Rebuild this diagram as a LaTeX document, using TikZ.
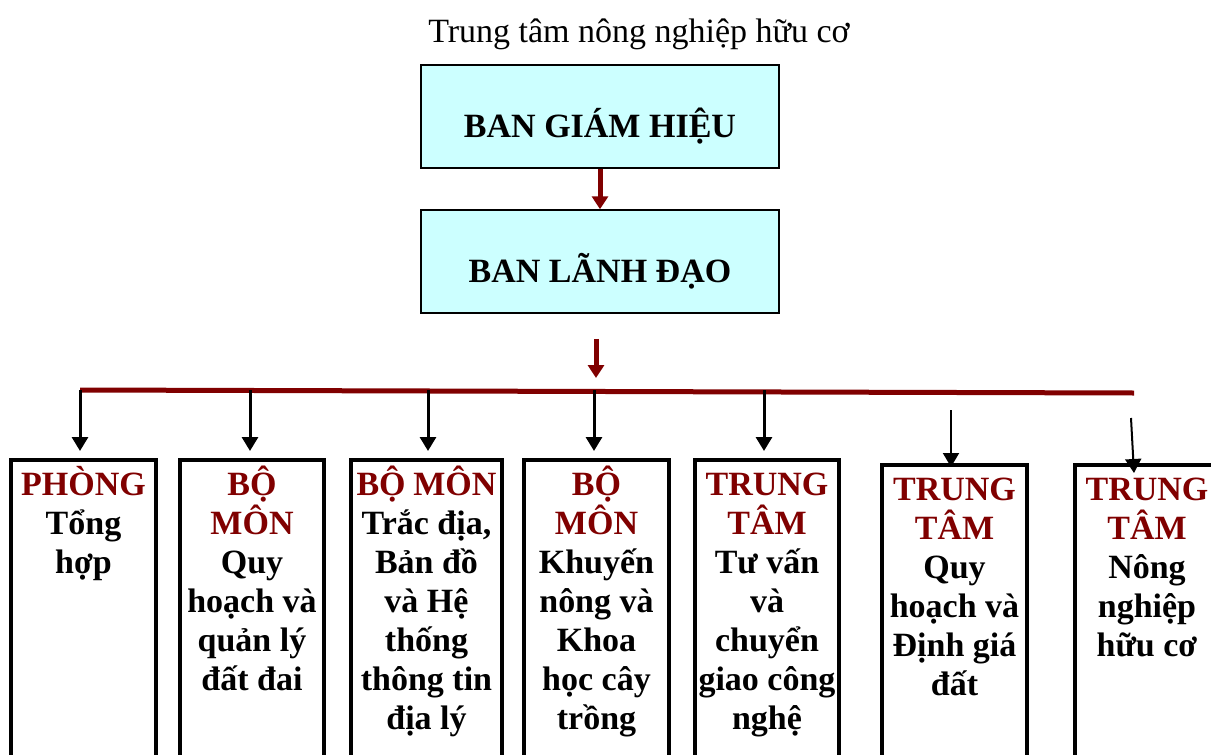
\documentclass[tikz,border=0pt]{standalone}
\usepackage{fontspec}
\setmainfont{Liberation Serif}
\usepackage{xcolor}
\usetikzlibrary{arrows.meta}
\definecolor{hdred}{HTML}{800000}
\definecolor{leadfill}{HTML}{CCFFFF}
\newcommand{\unitlabel}[2]{\parbox[t][330pt][t]{140pt}{\lineskiplimit=-100pt\centering\rule{0pt}{33pt}\textcolor{hdred}{#1}\\#2}}

\begin{document}
\begin{tikzpicture}[x=1pt, y=-1pt,
					lead/.style={draw, line width=1.5pt, fill=leadfill, minimum width=358pt, minimum height=103pt, text height=42pt, text depth=0pt, font=\bfseries\fontsize{34}{40}\selectfont},
					unit/.style={draw, line width=4pt, anchor=north, inner xsep=0pt, inner ysep=2pt, font=\bfseries\fontsize{34}{39}\selectfont},
					down/.style={draw=hdred, line width=5pt, -{Triangle[length=13pt,width=16pt]}},
					bar/.style={draw=hdred, line width=5pt},
					feed/.style={line width=3pt, -{Triangle[length=14pt,width=16pt]}}]
    \useasboundingbox (0,0) rectangle (1211,755);
    \clip (0,0) rectangle (1211,755);
    % Place nodes
    \node [font=\fontsize{34}{40}\selectfont, anchor=base] (title) at (639,42) {Trung tâm nông nghiệp hữu cơ};
    \node [lead] (gh) at (600,116.5) {BAN GIÁM HIỆU};
    \node [lead] (ld) at (600,261.5) {BAN LÃNH ĐẠO};
    \node [unit, minimum width=145pt] (u1) at (83.5,458) {\unitlabel{PHÒNG}{Tổng\\hợp}};
    \node [unit, minimum width=144pt] (u2) at (252,458) {\unitlabel{BỘ\\MÔN}{Quy\\hoạch và\\quản lý\\đất đai}};
    \node [unit, minimum width=151pt] (u3) at (426.5,458) {\unitlabel{BỘ MÔN}{Trắc địa,\\Bản đồ\\và Hệ\\thống\\thông tin\\địa lý}};
    \node [unit, minimum width=145pt] (u4) at (596.5,458) {\unitlabel{BỘ\\MÔN}{Khuyến\\nông và\\Khoa\\học cây\\trồng}};
    \node [unit, minimum width=144pt] (u5) at (767,458) {\unitlabel{TRUNG\\TÂM}{Tư vấn\\và\\chuyển\\giao công\\nghệ}};
    \node [unit, minimum width=145pt] (u6) at (954.5,463) {\unitlabel{TRUNG\\TÂM}{Quy\\hoạch và\\Định giá\\đất}};
    \node [unit, minimum width=145pt] (u7) at (1147,463) {\unitlabel{TRUNG\\TÂM}{Nông\\nghiệp\\hữu cơ}};
    \coordinate (hub) at (596,378);
    \coordinate (barL) at (80,390);
    \coordinate (barR) at (1134,393);
    \coordinate (s6) at (951,410);
    \coordinate (s7) at (1131,418);
    % Draw edges
    \draw[down] (gh) -- (ld);
    \draw[down] ([xshift=-4pt,yshift=-25pt]ld.south) -- (hub);
    \draw[bar] (barL) -- (barR);
    \foreach \n/\x in {1/80,2/250,3/428,4/594,5/764}
        \draw[feed, shorten >=7pt] (barL -| \x,0) -- (u\n.north -| \x,0);
    \draw[feed, line width=2pt, shorten >=-4pt] (s6) -- (u6.north -| s6);
    \draw[feed, line width=2pt] (s7) -- ([xshift=-13pt,yshift=-10pt]u7.north);
\end{tikzpicture}
\end{document}
